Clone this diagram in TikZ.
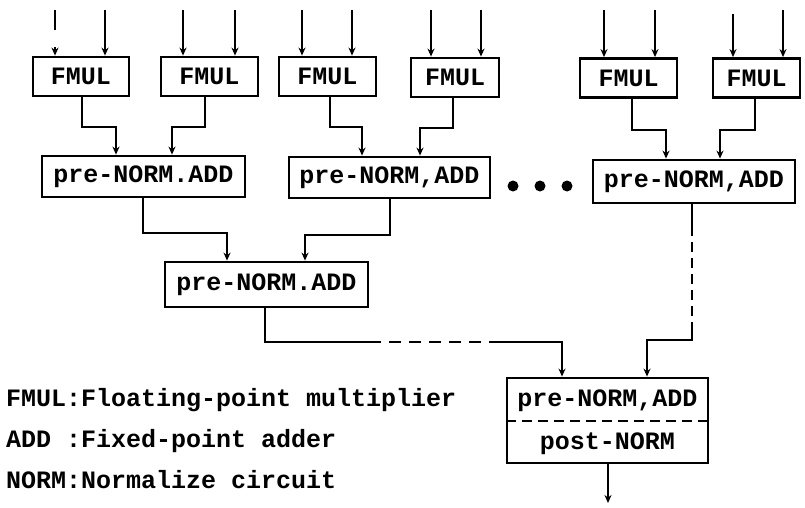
\documentclass[tikz,border=0pt]{standalone}
\usepackage{fontspec}
\setmonofont{Liberation Mono}
\usetikzlibrary{arrows.meta}
\begin{document}
\begin{tikzpicture}[x=1pt,y=-1pt,
  every node/.style={font=\ttfamily\bfseries\fontsize{25}{30}\selectfont},
  box/.style={draw, line width=2.8pt, rectangle, inner sep=0pt},
  fmul/.style={box, minimum height=39pt},
  adder/.style={box, minimum width=202pt, minimum height=42pt},
  conn/.style={line width=2.6pt, -{Stealth[length=8pt,width=7pt]}},
  dotc/.style={circle, fill, inner sep=0pt, minimum size=11pt},
  legend/.style={anchor=west, inner sep=0pt}]
\useasboundingbox (0,0) rectangle (805,508);
\fill[white] (0,0) rectangle (805,508);

% FMUL boxes
\node[fmul, minimum width=96pt] (f1) at (81,76.5) {FMUL};
\node[fmul, minimum width=97pt] (f2) at (209.5,76.5) {FMUL};
\node[fmul, minimum width=97pt] (f3) at (327.5,76.5) {FMUL};
\node[fmul, minimum width=88pt] (f4) at (455,77.5) {FMUL};
\node[fmul, minimum width=97pt] (f5) at (628.5,78) {FMUL};
\node[fmul, minimum width=87pt] (f6) at (756.5,78) {FMUL};

% input arrows
\coordinate (i1a) at (55,10);  \coordinate (i1b) at (105,10);
\coordinate (i2a) at (183,10); \coordinate (i2b) at (235,10);
\coordinate (i3a) at (302,10); \coordinate (i3b) at (352,10);
\coordinate (i4a) at (431,10); \coordinate (i4b) at (481,10);
\coordinate (i5a) at (604,10); \coordinate (i5b) at (655,10);
\coordinate (i6a) at (733,14); \coordinate (i6b) at (783,10);
\draw[conn, dash pattern=on 20pt off 17pt on 20pt] (i1a) -- (i1a |- f1.north);
\draw[conn] (i1b) -- (i1b |- f1.north);
\draw[conn] (i2a) -- (i2a |- f2.north);
\draw[conn] (i2b) -- (i2b |- f2.north);
\draw[conn] (i3a) -- (i3a |- f3.north);
\draw[conn] (i3b) -- (i3b |- f3.north);
\draw[conn] (i4a) -- (i4a |- f4.north);
\draw[conn] (i4b) -- (i4b |- f4.north);
\draw[conn] (i5a) -- (i5a |- f5.north);
\draw[conn] (i5b) -- (i5b |- f5.north);
\draw[conn] (i6a) -- (i6a |- f6.north);
\draw[conn] (i6b) -- (i6b |- f6.north);

% first-level adders
\node[adder, minimum width=203pt, minimum height=41pt] (a1) at (143.5,176.5) {pre-NORM.ADD};
\node[adder, minimum width=201pt, minimum height=41pt] (a2) at (389.5,177.5) {pre-NORM,ADD};
\node[adder, minimum height=43pt] (a3) at (694,181.5) {pre-NORM,ADD};

\node[dotc] (d1) at (513,186) {};
\node[dotc] (d2) at (540,186) {};
\node[dotc] (d3) at (567,186) {};

% FMUL -> adders
\draw[conn] (f1.south -| 82,0) |- (116,127) -- (a1.north -| 116,0);
\draw[conn] (f2.south -| 205,0) |- (172,127) -- (a1.north -| 172,0);
\draw[conn] (f3.south -| 330,0) |- (362,127) -- (a2.north -| 362,0);
\draw[conn] (f4.south -| 453,0) |- (420,128) -- (a2.north -| 420,0);
\draw[conn] (f5.south -| 632,0) |- (666,130) -- (a3.north -| 666,0);
\draw[conn] (f6.south -| 755,0) |- (720,130) -- (a3.north -| 720,0);

% second-level adder
\node[adder, minimum width=203pt, minimum height=45pt] (a4) at (266.5,284.5) {pre-NORM.ADD};
\draw[conn] (a1.south -| 143,0) |- (227,233) -- (a4.north -| 227,0);
\draw[conn] (a2.south -| 390,0) |- (305,235) -- (a4.north -| 305,0);

% final adder
\node[box, minimum width=201pt, minimum height=85pt] (fin) at (607.5,420.5) {};
\node[inner sep=0pt] (finT) at (607.5,401) {pre-NORM,ADD};
\node[inner sep=0pt] (finB) at (607.5,444) {post-NORM};
\draw[line width=2.4pt, dash pattern=on 10pt off 6pt] (fin.west |- 0,421) -- (fin.east |- 0,421);

\draw[conn, dash pattern=on 150pt off 8pt on 12pt off 8pt on 12pt off 8pt on 12pt off 8pt on 12pt off 8pt on 12pt off 8pt on 300pt]
  (a4.south -| 265,0) |- (562,342) -- (fin.north -| 562,0);
\draw[conn, dash pattern=on 32pt off 6pt on 10pt off 6pt on 10pt off 6pt on 10pt off 6pt on 10pt off 6pt on 10pt off 6pt on 300pt]
  (a3.south -| 692,0) |- (647,340) -- (fin.north -| 647,0);

% output
\coordinate (out) at (608,503);
\draw[conn] (fin.south -| 608,0) -- (out);

% legend
\node[legend] (l1) at (6,400) {FMUL:Floating-point multiplier};
\node[legend] (l2) at (6,441) {ADD :Fixed-point adder};
\node[legend] (l3) at (6,480) {NORM:Normalize circuit};
\end{tikzpicture}
\end{document}
